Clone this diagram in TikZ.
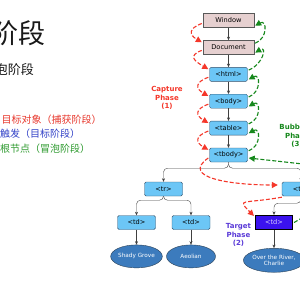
\documentclass[tikz,border=0pt]{standalone}
\usepackage{fontspec}
\setmainfont{DejaVu Sans}
\newfontfamily\cjkfont{Noto Sans CJK SC}
\usepackage{tikz}
\usetikzlibrary{arrows.meta,positioning,calc,shapes.geometric}
\definecolor{rose}{HTML}{E6D0D0}
\definecolor{sky}{HTML}{6CC6F6}
\definecolor{slate}{HTML}{34506A}
\definecolor{leafblue}{HTML}{3C7BBD}
\definecolor{hitblue}{HTML}{3B12EE}
\definecolor{capred}{HTML}{F5372A}
\definecolor{bubgreen}{HTML}{16881C}
\definecolor{tgtpurple}{HTML}{5A3AD8}
\definecolor{txtred}{HTML}{E8392E}
\definecolor{txtblue}{HTML}{3343C8}
\definecolor{txtgreen}{HTML}{2F9B30}

\begin{document}
\begin{tikzpicture}[
  x=1pt, y=1pt,
  font=\fontsize{6.6}{7.6}\selectfont,
  node distance=12.5pt,
  winbox/.style={draw=black!65, fill=rose, minimum width=51pt, minimum height=14pt, inner sep=1pt},
  elbox/.style={draw=slate, fill=sky, rounded corners=1.5pt, minimum width=38pt, minimum height=14pt, inner sep=1pt},
  hitbox/.style={draw=black, line width=1.2pt, fill=hitblue, text=white!80!hitblue, minimum width=37pt, minimum height=14pt, inner sep=1pt},
  leafnode/.style={ellipse, draw=slate!80!black, fill=leafblue, text=white, minimum width=49pt, minimum height=23pt, inner sep=0pt, align=center, font=\fontsize{5.7}{6.8}\selectfont},
  link/.style={-{Stealth[length=3.5pt,width=3pt]}, draw=black!75, rounded corners=4pt},
  capture/.style={-{Triangle[length=6pt,width=6pt]}, draw=capred, dash pattern=on 4pt off 2pt, line width=1.1pt},
  bubble/.style={-{Triangle[length=6pt,width=6pt]}, draw=bubgreen, dash pattern=on 4pt off 2pt, line width=1.1pt},
  phase/.style={font=\bfseries\fontsize{7}{8.5}\selectfont, align=center},
  cjk/.style={inner sep=0pt, font=\cjkfont\fontsize{10}{12}\selectfont}
]
  \fill[white] (0,0) rectangle (300,-300);
  \useasboundingbox (0,0) rectangle (300,-300);

  % slide text on the left
  \node[anchor=east, inner sep=0pt, text=black!90, font=\cjkfont\fontsize{27}{30}\selectfont] (title) at (46,-33) {阶段};
  \node[anchor=east, inner sep=0pt, text=black!90, font=\cjkfont\fontsize{13}{15}\selectfont] (subtitle) at (34,-69.5) {泡阶段};
  \node[cjk, anchor=west, text=txtred] (capnote) at (1.5,-119.5) {目标对象（捕获阶段）};
  \node[cjk, anchor=west, text=txtblue] (tgtnote) at (0,-134) {触发（目标阶段）};
  \node[cjk, anchor=west, text=txtgreen] (bubnote) at (0,-149) {根节点（冒泡阶段）};

  % DOM chain
  \node[winbox] (window) at (228.5,-20.5) {Window};
  \node[winbox, below=of window] (document) {Document};
  \node[elbox, below=of document] (html) {<html>};
  \node[elbox, below=of html] (body) {<body>};
  \node[elbox, below=of body] (table) {<table>};
  \node[elbox, below=of table] (tbody) {<tbody>};

  \node[elbox] (trl) at (163.5,-189) {<tr>};
  \node[elbox] (trr) at (301,-189) {<tr>};
  \node[elbox] (tdl) at (136.5,-222.5) {<td>};
  \node[elbox] (tdm) at (191,-222.5) {<td>};
  \node[hitbox] (tdhit) at (274,-222.5) {<td>};

  \node[leafnode, below=15pt of tdl] (grove) {Shady Grove};
  \node[leafnode, below=15pt of tdm] (aeolian) {Aeolian};
  \node[leafnode, minimum width=50pt, minimum height=24pt, below=18pt of tdhit] (river) {Over the River,\\Charlie};

  \foreach \a/\b in {window/document,document/html,html/body,body/table,table/tbody,tdl/grove,tdm/aeolian,tdhit/river}
    \draw[link] (\a) -- (\b);
  \draw[link] (tbody.south) -- ++(0,-6) -| (trl.north);
  \draw[link] (tbody.south) -- ++(0,-6) -| (trr.north);
  \draw[link] (trl.south) -- ++(0,-4) -| (tdl.north);
  \draw[link] (trl.south) -- ++(0,-4) -| (tdm.north);
  \draw[link] (trr.south) -- ++(0,-7) -| (tdhit.north);

  % capture phase
  \foreach \a/\b in {window/document,document/html,html/body,body/table,table/tbody}
    \draw[capture] ([xshift=-1pt,yshift=-3pt]\a.west) to[out=200,in=150,looseness=2] ([xshift=-1pt,yshift=-2pt]\b.north west);
  \draw[capture] ([xshift=-1pt,yshift=-3pt]tbody.west) to[out=215,in=180,out distance=35pt,in distance=45pt] ([xshift=-4pt,yshift=4pt]trr.west);
  \draw[capture] ([yshift=-1pt]trr.south west) to[out=190,in=135,out distance=40pt,in distance=25pt] ([xshift=-1pt,yshift=-1pt]tdhit.north west);

  % bubbling phase
  \foreach \a/\b in {window/document,document/html,html/body,body/table,table/tbody}
    \draw[bubble] ([xshift=1pt,yshift=-3pt]\b.north east) to[out=20,in=30,looseness=2] ([xshift=1pt,yshift=2pt]\a.south east);
  \coordinate (bubin) at (312,-165);
  \coordinate (bubout) at (312,-212);
  \draw[bubble] (bubin) -- ([xshift=1pt,yshift=-3pt]tbody.east);
  \draw[bubble, -] ([xshift=1pt]tdhit.east) -- (bubout);

  \node[phase, text=capred] (caplabel) at (167,-98) {Capture\\Phase\\(1)};
  \node[phase, text=tgtpurple] (tgtlabel) at (238.5,-235) {Target\\Phase\\(2)};
  \node[phase, text=bubgreen] (bublabel) at (297,-136) {Bubbling\\Phase\\(3)};
\end{tikzpicture}
\end{document}
